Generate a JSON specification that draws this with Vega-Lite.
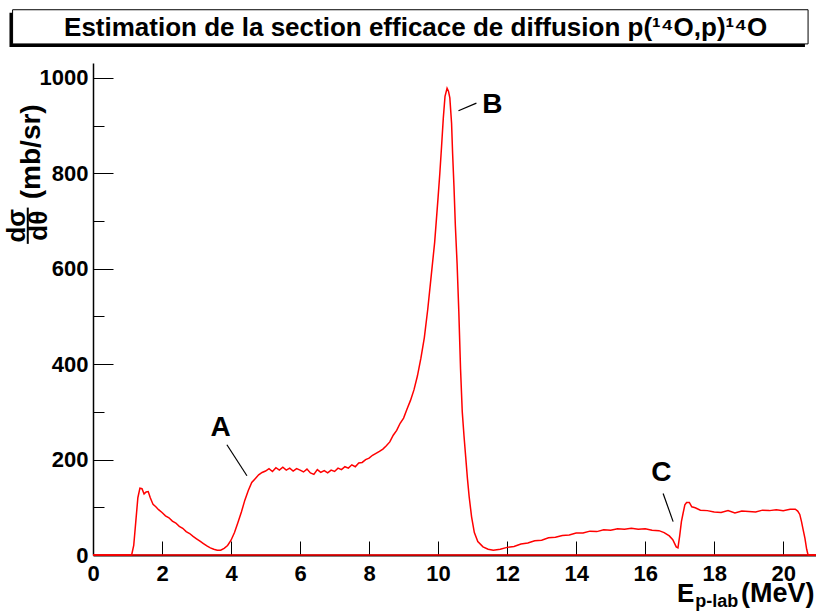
{
  "$schema": "https://vega.github.io/schema/vega-lite/v6.json",
  "autosize": {"type": "none"},
  "padding": {"left": 93, "top": 63, "right": 0, "bottom": 59},
  "width": 723,
  "height": 492,
  "background": "white",
  "config": {"view": {"stroke": null}, "font": "Liberation Sans"},
  "datasets": {
    "hist": [
      {"E": 0, "s": 0}, {"E": 1.12, "s": 0}, {"E": 1.18, "s": 20}, {"E": 1.24, "s": 70}, {"E": 1.3, "s": 120},
      {"E": 1.36, "s": 140}, {"E": 1.42, "s": 139}, {"E": 1.48, "s": 128}, {"E": 1.54, "s": 132}, {"E": 1.6, "s": 133},
      {"E": 1.66, "s": 120}, {"E": 1.74, "s": 106}, {"E": 1.82, "s": 101}, {"E": 1.9, "s": 95}, {"E": 2.0, "s": 89},
      {"E": 2.1, "s": 82}, {"E": 2.2, "s": 78}, {"E": 2.3, "s": 71}, {"E": 2.4, "s": 67}, {"E": 2.5, "s": 60},
      {"E": 2.6, "s": 56}, {"E": 2.7, "s": 49}, {"E": 2.8, "s": 45}, {"E": 2.9, "s": 39}, {"E": 3.0, "s": 34},
      {"E": 3.1, "s": 29}, {"E": 3.2, "s": 24}, {"E": 3.3, "s": 19}, {"E": 3.4, "s": 15}, {"E": 3.5, "s": 12},
      {"E": 3.6, "s": 10}, {"E": 3.7, "s": 10}, {"E": 3.8, "s": 14}, {"E": 3.9, "s": 20}, {"E": 4.0, "s": 31},
      {"E": 4.1, "s": 47}, {"E": 4.2, "s": 68}, {"E": 4.3, "s": 90}, {"E": 4.4, "s": 115}, {"E": 4.5, "s": 135},
      {"E": 4.6, "s": 152}, {"E": 4.7, "s": 160}, {"E": 4.8, "s": 168}, {"E": 4.9, "s": 173}, {"E": 5.0, "s": 176},
      {"E": 5.1, "s": 181}, {"E": 5.2, "s": 175}, {"E": 5.3, "s": 183}, {"E": 5.4, "s": 178}, {"E": 5.5, "s": 184},
      {"E": 5.6, "s": 178}, {"E": 5.7, "s": 182}, {"E": 5.8, "s": 176}, {"E": 5.9, "s": 181}, {"E": 6.0, "s": 178},
      {"E": 6.1, "s": 174}, {"E": 6.2, "s": 180}, {"E": 6.3, "s": 172}, {"E": 6.4, "s": 169}, {"E": 6.5, "s": 179},
      {"E": 6.6, "s": 173}, {"E": 6.7, "s": 177}, {"E": 6.8, "s": 172}, {"E": 6.9, "s": 178}, {"E": 7.0, "s": 175},
      {"E": 7.1, "s": 182}, {"E": 7.2, "s": 179}, {"E": 7.3, "s": 185}, {"E": 7.4, "s": 182}, {"E": 7.5, "s": 189},
      {"E": 7.6, "s": 185}, {"E": 7.7, "s": 193}, {"E": 7.8, "s": 194}, {"E": 7.9, "s": 200}, {"E": 8.0, "s": 203},
      {"E": 8.1, "s": 209}, {"E": 8.2, "s": 213}, {"E": 8.3, "s": 217}, {"E": 8.4, "s": 222}, {"E": 8.5, "s": 229},
      {"E": 8.6, "s": 237}, {"E": 8.7, "s": 251}, {"E": 8.8, "s": 261}, {"E": 8.9, "s": 276}, {"E": 9.0, "s": 287},
      {"E": 9.1, "s": 306}, {"E": 9.2, "s": 324}, {"E": 9.3, "s": 346}, {"E": 9.4, "s": 375}, {"E": 9.5, "s": 412},
      {"E": 9.6, "s": 455}, {"E": 9.7, "s": 515}, {"E": 9.8, "s": 585}, {"E": 9.9, "s": 655}, {"E": 10.0, "s": 750},
      {"E": 10.05, "s": 800}, {"E": 10.1, "s": 856}, {"E": 10.15, "s": 915}, {"E": 10.2, "s": 961}, {"E": 10.26, "s": 978},
      {"E": 10.3, "s": 972}, {"E": 10.34, "s": 958}, {"E": 10.39, "s": 905}, {"E": 10.42, "s": 842}, {"E": 10.46, "s": 772},
      {"E": 10.5, "s": 690}, {"E": 10.55, "s": 611}, {"E": 10.6, "s": 510}, {"E": 10.65, "s": 390}, {"E": 10.7, "s": 300},
      {"E": 10.75, "s": 250}, {"E": 10.8, "s": 205}, {"E": 10.85, "s": 160}, {"E": 10.9, "s": 122}, {"E": 10.97, "s": 80},
      {"E": 11.05, "s": 47}, {"E": 11.15, "s": 28}, {"E": 11.3, "s": 17}, {"E": 11.45, "s": 12}, {"E": 11.6, "s": 10},
      {"E": 11.8, "s": 12}, {"E": 12.0, "s": 16}, {"E": 12.2, "s": 18}, {"E": 12.4, "s": 23}, {"E": 12.6, "s": 25},
      {"E": 12.8, "s": 30}, {"E": 13.0, "s": 31}, {"E": 13.2, "s": 36}, {"E": 13.4, "s": 37}, {"E": 13.6, "s": 41},
      {"E": 13.8, "s": 42}, {"E": 14.0, "s": 46}, {"E": 14.2, "s": 46}, {"E": 14.4, "s": 50}, {"E": 14.6, "s": 49},
      {"E": 14.8, "s": 53}, {"E": 15.0, "s": 52}, {"E": 15.2, "s": 55}, {"E": 15.4, "s": 54}, {"E": 15.6, "s": 56},
      {"E": 15.8, "s": 54}, {"E": 16.0, "s": 55}, {"E": 16.2, "s": 52}, {"E": 16.4, "s": 51}, {"E": 16.55, "s": 47},
      {"E": 16.7, "s": 40}, {"E": 16.8, "s": 32}, {"E": 16.9, "s": 17}, {"E": 16.95, "s": 15}, {"E": 17.0, "s": 40},
      {"E": 17.05, "s": 70}, {"E": 17.1, "s": 88}, {"E": 17.15, "s": 105}, {"E": 17.2, "s": 110}, {"E": 17.28, "s": 110},
      {"E": 17.35, "s": 101}, {"E": 17.45, "s": 99}, {"E": 17.6, "s": 94}, {"E": 17.8, "s": 93}, {"E": 18.0, "s": 90},
      {"E": 18.2, "s": 89}, {"E": 18.4, "s": 93}, {"E": 18.6, "s": 88}, {"E": 18.8, "s": 92}, {"E": 19.0, "s": 91},
      {"E": 19.2, "s": 90}, {"E": 19.4, "s": 94}, {"E": 19.6, "s": 93}, {"E": 19.8, "s": 95}, {"E": 20.0, "s": 93},
      {"E": 20.2, "s": 96}, {"E": 20.35, "s": 96}, {"E": 20.42, "s": 92}, {"E": 20.48, "s": 85}, {"E": 20.53, "s": 70},
      {"E": 20.58, "s": 52}, {"E": 20.63, "s": 35}, {"E": 20.68, "s": 12}, {"E": 20.72, "s": 0}, {"E": 20.95, "s": 0}
    ],
    "notes": [
      {"label": "A", "E": 3.7, "s": 266, "E1": 3.88, "s1": 231, "E2": 4.46, "s2": 166},
      {"label": "B", "E": 11.57, "s": 943, "E1": 10.59, "s1": 931, "E2": 11.11, "s2": 947},
      {"label": "C", "E": 16.47, "s": 172, "E1": 16.52, "s1": 129, "E2": 16.81, "s2": 70}
    ],
    "one": [{}]
  },
  "layer": [
    {
      "data": {"name": "one"},
      "mark": {"type": "rect", "color": "black"},
      "encoding": {
        "x": {"datum": -2.42, "type": "quantitative", "scale": {"domain": [0, 20.95], "nice": false, "zero": false}},
        "x2": {"datum": 20.63},
        "y": {"datum": 1064.7, "type": "quantitative", "scale": {"domain": [0, 1031], "nice": false}},
        "y2": {"datum": 1136.3}
      }
    },
    {
      "data": {"name": "one"},
      "mark": {"type": "rect", "fill": "white", "stroke": "black", "strokeWidth": 1},
      "encoding": {
        "x": {"datum": -2.33, "type": "quantitative"},
        "x2": {"datum": 20.72},
        "y": {"datum": 1071, "type": "quantitative"},
        "y2": {"datum": 1142.6}
      }
    },
    {
      "data": {"name": "one"},
      "mark": {"type": "text", "text": "Estimation de la section efficace de diffusion p(¹⁴O,p)¹⁴O", "font": "Liberation Sans", "fontWeight": "bold", "fontSize": 26, "align": "center", "baseline": "middle", "color": "black"},
      "encoding": {
        "x": {"datum": 9.35, "type": "quantitative"},
        "y": {"datum": 1105, "type": "quantitative"}
      }
    },
    {
      "data": {"name": "one"},
      "mark": {"type": "rule", "color": "red", "strokeWidth": 1.5},
      "encoding": {"y": {"datum": 0, "type": "quantitative"}}
    },
    {
      "data": {"name": "hist"},
      "mark": {"type": "line", "color": "red", "strokeWidth": 1.5, "interpolate": "linear"},
      "encoding": {
        "x": {
          "field": "E", "type": "quantitative",
          "axis": {
            "title": null,
            "values": [0,0.5,1,1.5,2,2.5,3,3.5,4,4.5,5,5.5,6,6.5,7,7.5,8,8.5,9,9.5,10,10.5,11,11.5,12,12.5,13,13.5,14,14.5,15,15.5,16,16.5,17,17.5,18,18.5,19,19.5,20,20.5],
            "labelExpr": "datum.value % 2 === 0 ? '' + datum.value : ''",
            "labelOverlap": false, "labelFlush": false,
            "labelFont": "Liberation Sans", "labelFontWeight": "bold", "labelFontSize": 22, "labelColor": "black",
            "labelPadding": 22,
            "tickSize": {"condition": {"test": "datum.value % 2 === 0", "value": -14}, "value": -7},
            "tickColor": "black", "tickWidth": 1,
            "domainColor": "black", "domainWidth": 2, "grid": false
          }
        },
        "y": {
          "field": "s", "type": "quantitative",
          "axis": {
            "title": null,
            "values": [0,50,100,150,200,250,300,350,400,450,500,550,600,650,700,750,800,850,900,950,1000],
            "labelExpr": "datum.value % 200 === 0 ? '' + datum.value : ''",
            "labelOverlap": false, "labelFlush": false,
            "labelFont": "Liberation Sans", "labelFontWeight": "bold", "labelFontSize": 22, "labelColor": "black",
            "labelPadding": 25,
            "tickSize": {"condition": {"test": "datum.value % 200 === 0", "value": -20}, "value": -11},
            "tickColor": "black", "tickWidth": 1,
            "domainColor": "black", "domainWidth": 1.5, "grid": false
          }
        }
      }
    },
    {
      "data": {"name": "notes"},
      "mark": {"type": "rule", "color": "black", "strokeWidth": 1.2},
      "encoding": {
        "x": {"field": "E1", "type": "quantitative"},
        "y": {"field": "s1", "type": "quantitative"},
        "x2": {"field": "E2"},
        "y2": {"field": "s2"}
      }
    },
    {
      "data": {"name": "notes"},
      "mark": {"type": "text", "font": "Liberation Sans", "fontWeight": "bold", "fontSize": 28, "align": "center", "baseline": "middle", "color": "black"},
      "encoding": {
        "x": {"field": "E", "type": "quantitative"},
        "y": {"field": "s", "type": "quantitative"},
        "text": {"field": "label"}
      }
    },
    {
      "data": {"name": "one"},
      "mark": {"type": "text", "text": "(mb/sr)", "font": "Liberation Sans", "fontWeight": "bold", "fontSize": 28, "angle": 270, "align": "center", "baseline": "middle", "color": "black"},
      "encoding": {"x": {"datum": -1.78, "type": "quantitative"}, "y": {"datum": 845, "type": "quantitative"}}
    },
    {
      "data": {"name": "one"},
      "mark": {"type": "text", "text": "dσ", "font": "Liberation Sans", "fontWeight": "bold", "fontSize": 26, "angle": 270, "align": "center", "baseline": "middle", "color": "black"},
      "encoding": {"x": {"datum": -2.21, "type": "quantitative"}, "y": {"datum": 690, "type": "quantitative"}}
    },
    {
      "data": {"name": "one"},
      "mark": {"type": "text", "text": "dθ", "font": "Liberation Sans", "fontWeight": "bold", "fontSize": 26, "angle": 270, "align": "center", "baseline": "middle", "color": "black"},
      "encoding": {"x": {"datum": -1.56, "type": "quantitative"}, "y": {"datum": 690, "type": "quantitative"}}
    },
    {
      "data": {"name": "one"},
      "mark": {"type": "rule", "color": "black", "strokeWidth": 2},
      "encoding": {"x": {"datum": -1.89, "type": "quantitative"}, "y": {"datum": 652, "type": "quantitative"}, "y2": {"datum": 728}}
    },
    {
      "data": {"name": "one"},
      "mark": {"type": "text", "text": "E", "font": "Liberation Sans", "fontWeight": "bold", "fontSize": 26, "align": "left", "baseline": "alphabetic", "color": "black"},
      "encoding": {"x": {"datum": 16.92, "type": "quantitative"}, "y": {"datum": -98, "type": "quantitative"}}
    },
    {
      "data": {"name": "one"},
      "mark": {"type": "text", "text": "p-lab", "font": "Liberation Sans", "fontWeight": "bold", "fontSize": 18, "align": "left", "baseline": "alphabetic", "color": "black"},
      "encoding": {"x": {"datum": 17.45, "type": "quantitative"}, "y": {"datum": -108, "type": "quantitative"}}
    },
    {
      "data": {"name": "one"},
      "mark": {"type": "text", "text": "(MeV)", "font": "Liberation Sans", "fontWeight": "bold", "fontSize": 27, "align": "left", "baseline": "alphabetic", "color": "black"},
      "encoding": {"x": {"datum": 18.78, "type": "quantitative"}, "y": {"datum": -98, "type": "quantitative"}}
    }
  ]
}
